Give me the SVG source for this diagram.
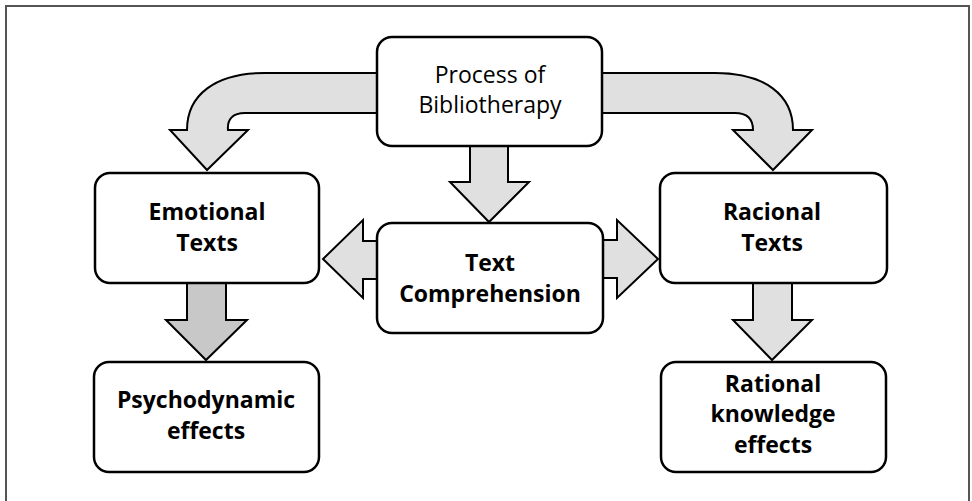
<svg xmlns="http://www.w3.org/2000/svg" width="972" height="501" viewBox="0 0 972 501">
<style>
.box{fill:#fff;stroke:#000;stroke-width:2.5}
.arr{fill:#e0e0e0;stroke:#000;stroke-width:2;stroke-linejoin:miter}
.arr2{fill:#c8c8c8;stroke:#000;stroke-width:2}
.t{font-family:"Open Sans","Noto Sans",sans-serif;font-size:23px;text-anchor:middle;fill:#000}
.b{font-weight:bold;font-size:23px}
</style>
<rect x="6" y="6" width="963" height="510" fill="#fff" stroke="#555" stroke-width="2"/>
<g id="connectors">
<path class="arr" d="M377,73 L265,73 C215,73 187,95 187,130 L170,130 L207,170 L248,130 L228,130 C227,119 233,113 245,113 L377,113 Z"/>
<path class="arr" d="M602,73 L715,73 C765,73 793,95 793,130 L812,130 L773,170 L733,130 L753,130 C753,119 747,113 735,113 L602,113 Z"/>
<path class="arr" d="M470,146 L470,182 L450,182 L489,222 L529,182 L508,182 L508,146 Z"/>
<path class="arr" d="M377,241 L363,241 L363,220 L323,259 L363,298 L363,279 L377,279 Z"/>
<path class="arr" d="M603,240 L617,240 L617,220 L658,259 L617,298 L617,278 L603,278 Z"/>
<path class="arr2" d="M187,283 L187,320 L166,320 L206,360 L247,320 L226,320 L226,283 Z"/>
<path class="arr" d="M753,283 L753,320 L733,320 L772,360 L812,320 L792,320 L792,283 Z"/>
</g>
<g id="process">
<rect class="box" x="377" y="37" width="225" height="109" rx="15"/>
<text class="t" x="490" y="83">Process of</text>
<text class="t" x="490" y="113">Bibliotherapy</text>
</g>
<g id="emotional">
<rect class="box" x="95" y="173" width="224" height="110" rx="15"/>
<text class="t b" x="207" y="220">Emotional</text>
<text class="t b" x="207" y="251">Texts</text>
</g>
<g id="comprehension">
<rect class="box" x="377" y="223" width="226" height="110" rx="15"/>
<text class="t b" x="490" y="271">Text</text>
<text class="t b" x="490" y="302">Comprehension</text>
</g>
<g id="racional">
<rect class="box" x="660" y="173" width="227" height="110" rx="15"/>
<text class="t b" x="772" y="220">Racional</text>
<text class="t b" x="772" y="251">Texts</text>
</g>
<g id="psychodynamic">
<rect class="box" x="94" y="362" width="225" height="110" rx="15"/>
<text class="t b" x="206" y="408">Psychodynamic</text>
<text class="t b" x="206" y="439">effects</text>
</g>
<g id="rational">
<rect class="box" x="661" y="362" width="225" height="110" rx="15"/>
<text class="t b" x="773" y="392">Rational</text>
<text class="t b" x="773" y="422">knowledge</text>
<text class="t b" x="773" y="453">effects</text>
</g>
</svg>
